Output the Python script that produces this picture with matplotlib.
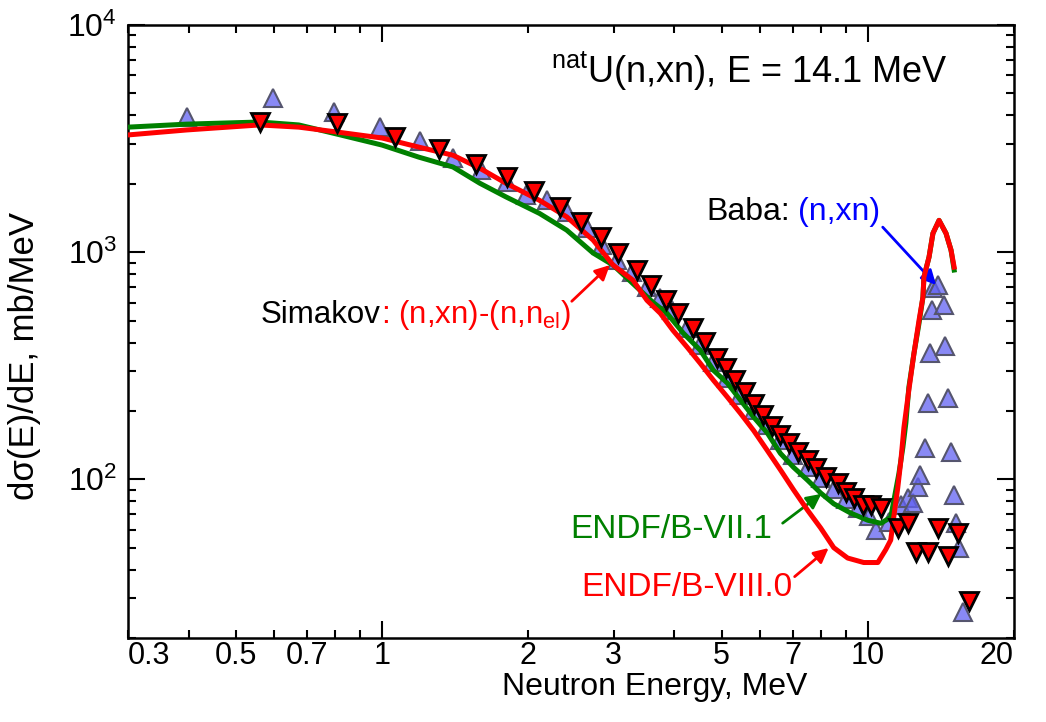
import matplotlib
matplotlib.use("Agg")
import matplotlib.pyplot as plt
from matplotlib.ticker import LogLocator, NullFormatter

plt.rcParams['font.family'] = ['Liberation Sans', 'DejaVu Sans']
plt.rcParams['mathtext.default'] = 'regular'

# Baba: (n,xn) data
baba_e = [0.396, 0.596, 0.796, 0.99, 1.20, 1.40, 1.60, 1.81, 1.98, 2.19, 2.40, 2.64,
          2.84, 3.05, 3.27, 3.51, 3.74, 3.96, 4.25, 4.52, 4.81, 5.14, 5.47, 5.82,
          6.21, 6.61, 7.03, 7.52, 8.00, 8.51, 9.01, 9.54, 10.05, 10.39, 11.04, 11.70,
          12.10, 12.39, 12.69, 12.81, 13.12, 13.30, 13.43, 13.56, 13.62, 13.95, 14.35,
          14.42, 14.63, 14.84, 15.06, 15.20, 15.42, 15.72]
baba_y = [3940, 4760, 4140, 3550, 3080, 2600, 2300, 2030, 1780, 1690, 1500, 1280,
          1070, 922, 817, 702, 627, 555, 463, 389, 327, 279, 234, 201,
          173, 149, 128, 113, 101, 91, 82, 75, 69, 60, 65, 77,
          83, 79, 92, 104, 137, 216, 359, 555, 694, 716, 584,
          385, 228, 132, 85, 64, 50, 26]

# Simakov: (n,xn)-(n,n_el) data
sim_e = [0.560, 0.807, 1.064, 1.31, 1.56, 1.81, 2.06, 2.32, 2.57, 2.82, 3.06, 3.35,
         3.58, 3.84, 4.07, 4.37, 4.63, 4.90, 5.11, 5.34, 5.60, 5.82, 6.10, 6.36,
         6.61, 6.87, 7.17, 7.52, 7.81, 8.19, 8.67, 9.01, 9.36, 9.77, 10.14, 10.64,
         11.53, 12.10, 12.57, 13.30, 13.95, 14.63, 15.35, 16.17]
sim_y = [3740, 3700, 3210, 2840, 2440, 2140, 1860, 1580, 1360, 1160, 991, 834,
         716, 614, 538, 463, 401, 341, 308, 273, 242, 214, 191, 171,
         156, 144, 132, 121, 112, 102, 96, 88, 83, 77, 77, 75,
         61, 64, 48, 48, 61, 46, 58, 29]

# ENDF/B-VII.1
b71_e = [0.30, 0.396, 0.56, 0.674, 0.807, 1.0, 1.19, 1.40, 1.59, 1.80, 2.11, 2.40,
         2.72, 2.99, 3.61, 3.86, 4.17, 4.52, 4.81, 5.14, 5.47, 5.82, 6.21, 6.61,
         7.03, 7.52, 8.00, 8.51, 9.22, 10.0, 10.64, 11.15, 11.32, 11.59, 11.81, 11.98,
         12.15, 12.45, 12.75, 12.99, 13.05, 13.37, 13.62, 14.02, 14.49, 14.84, 15.06]
b71_y = [3550, 3660, 3740, 3630, 3310, 2960, 2620, 2370, 2010, 1750, 1480, 1250,
         991, 877, 602, 538, 440, 370, 302, 265, 223, 188, 160, 130,
         113, 99, 87, 78, 71, 66, 64, 68, 81, 106, 138, 177,
         254, 359, 486, 634, 776, 951, 1210, 1380, 1210, 1020, 834]

# ENDF/B-VIII.0
b80_e = [0.30, 0.396, 0.56, 0.674, 0.807, 1.0, 1.19, 1.40, 1.59, 1.80, 2.11, 2.40,
         2.72, 2.99, 3.285, 3.51, 3.74, 3.97, 4.25, 4.52, 4.81, 5.14, 5.47, 5.82,
         6.21, 6.61, 7.03, 7.52, 8.00, 8.51, 9.09, 9.81, 10.49, 10.89, 11.15, 11.32,
         11.53, 11.70, 11.87, 12.15, 12.45, 12.75, 12.99, 13.05, 13.37, 13.62, 14.02,
         14.49, 14.84, 15.06]
b80_y = [3280, 3450, 3630, 3550, 3380, 3180, 2900, 2670, 2340, 2010, 1690, 1430,
         1130, 877, 753, 614, 538, 453, 381, 324, 273, 230, 195, 164,
         134, 110, 90, 73, 61, 50, 45, 43, 43, 49, 54, 69,
         92, 121, 169, 247, 359, 501, 634, 776, 951, 1210, 1380,
         1210, 1020, 859]

xticks = [0.3, 0.5, 0.7, 1, 2, 3, 5, 7, 10, 20]
xtick_labels = ['0.3', '0.5', '0.7', '1', '2', '3', '5', '7', '10', '20']
yticks = [1e2, 1e3, 1e4]
ytick_labels = ['$10^{2}$', '$10^{3}$', '$10^{4}$']

fig = plt.figure(figsize=(10.46, 7.22), dpi=100)
ax = fig.add_axes([0.1224, 0.1163, 0.8470, 0.8491])
ax.set_xscale('log')
ax.set_yscale('log')

ax.plot(baba_e, baba_y, '^', ms=12.5, mfc=(0.38, 0.38, 0.95, 0.75),
        mec='#55556e', mew=1.5, zorder=2)
ax.plot(b71_e, b71_y, '-', color='#008000', lw=3.6, zorder=3)
ax.plot(b80_e, b80_y, '-', color='#ff0000', lw=3.6, zorder=4)
ax.plot(sim_e, sim_y, 'v', ms=12.5, mfc='#ff0000', mec='black', mew=2, zorder=5)

ax.set_xlim(0.3, 20)
ax.set_ylim(20, 1e4)

ax.xaxis.set_minor_locator(LogLocator(base=10, subs=range(2, 10)))
ax.xaxis.set_minor_formatter(NullFormatter())
ax.set_xticks(xticks, xtick_labels)
ax.yaxis.set_minor_locator(LogLocator(base=10, subs=range(2, 10)))
ax.yaxis.set_minor_formatter(NullFormatter())
ax.set_yticks(yticks, ytick_labels)

ax.tick_params(which='both', direction='in', top=True, right=True, width=1.5)
ax.tick_params(which='major', length=6)
ax.tick_params(which='minor', length=6)
ax.tick_params(axis='x', labelsize=22, pad=2)
ax.tick_params(axis='y', labelsize=23, pad=8)
# decades get longer ticks
for t in ax.xaxis.get_major_ticks():
    if t.get_loc() in (1, 10):
        t.tick1line.set_markersize(12)
        t.tick2line.set_markersize(12)
for t in ax.yaxis.get_major_ticks():
    t.tick1line.set_markersize(12)
    t.tick2line.set_markersize(12)
xlabels = ax.get_xticklabels()
xlabels[0].set_ha('left')
xlabels[-1].set_ha('right')
for s in ax.spines.values():
    s.set_linewidth(1.8)

ax.set_xlabel('Neutron Energy, MeV', fontsize=23)
ax.xaxis.set_label_coords(0.595, -0.056)
ax.set_ylabel('d\u03c3(E)/dE, mb/MeV', fontsize=25)
ax.yaxis.set_label_coords(-0.098, 0.46)

ax.text(14.63, 5545, '$^{nat}$U(n,xn), E = 14.1 MeV', fontsize=26,
        ha='right', va='baseline')

ax.text(0.995, 486, 'Simakov', fontsize=22.5, ha='right', va='baseline')
ax.text(0.995, 486, ': (n,xn)-(n,n$_{el}$)', fontsize=22.5, color='#ff0000',
        ha='left', va='baseline')
ax.annotate('', xy=(2.973, 894), xytext=(2.435, 596),
            arrowprops=dict(arrowstyle='-|>', color='#ff0000', lw=2, mutation_scale=22))

ax.text(6.93, 1384, 'Baba:', fontsize=23, ha='right', va='baseline')
ax.text(7.2, 1384, '(n,xn)', fontsize=23, color='#0000ff', ha='left', va='baseline')
ax.annotate('', xy=(13.95, 702), xytext=(10.64, 1315),
            arrowprops=dict(arrowstyle='-|>', color='#0000ff', lw=2, mutation_scale=22))

ax.text(6.36, 55, 'ENDF/B-VII.1', fontsize=24, color='#008000', ha='right', va='baseline')
ax.annotate('', xy=(8.11, 87.7), xytext=(6.61, 63),
            arrowprops=dict(arrowstyle='-|>', color='#008000', lw=2, mutation_scale=22))

ax.text(7.0, 30.5, 'ENDF/B-VIII.0', fontsize=24, color='#ff0000', ha='right', va='baseline')
ax.annotate('', xy=(8.39, 50.7), xytext=(7.0, 36.6),
            arrowprops=dict(arrowstyle='-|>', color='#ff0000', lw=2, mutation_scale=22))

fig.savefig('out.png', dpi=100)
